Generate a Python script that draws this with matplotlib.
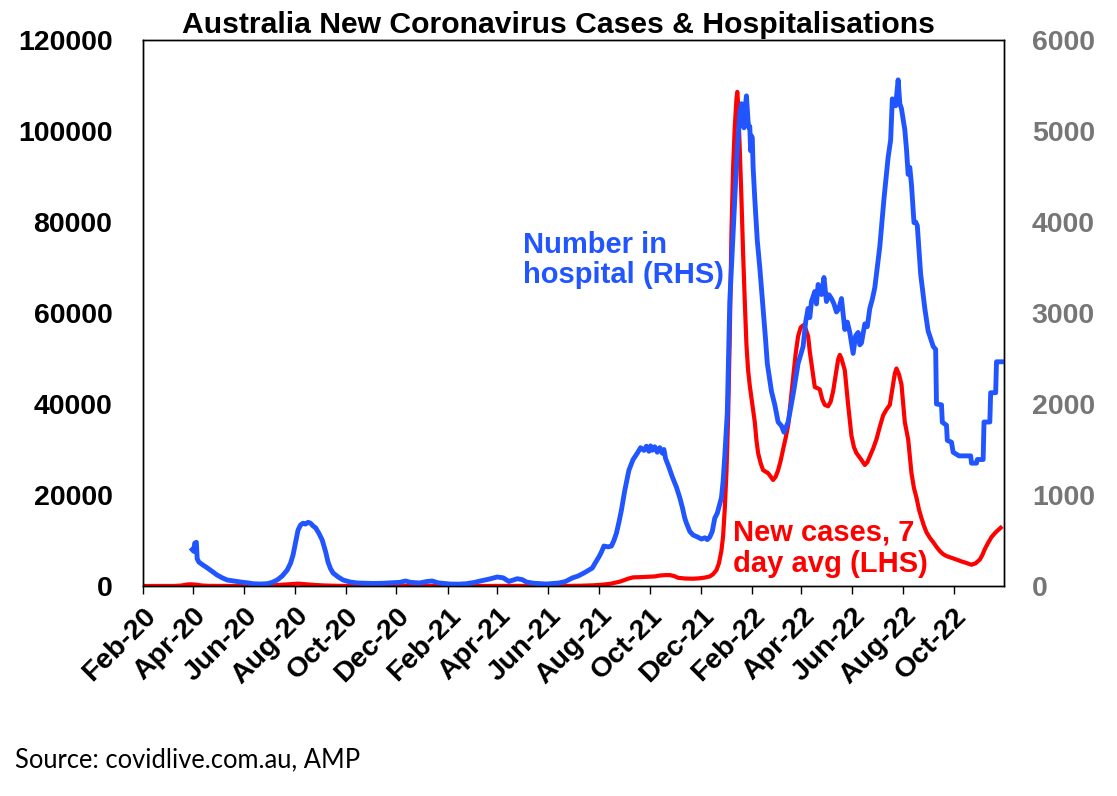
import matplotlib.pyplot as plt
import matplotlib.dates as mdates
import pandas as pd

# number in hospital (RHS)
hosp_dates = [
    "2020-03-31", "2020-04-02", "2020-04-03", "2020-04-05", "2020-04-06", "2020-04-08", "2020-04-13",
    "2020-04-18", "2020-04-24", "2020-04-30", "2020-05-06", "2020-05-12", "2020-05-20", "2020-05-28",
    "2020-06-05", "2020-06-12", "2020-06-20", "2020-06-29", "2020-07-05", "2020-07-11", "2020-07-17",
    "2020-07-23", "2020-07-27", "2020-07-30", "2020-08-02", "2020-08-05", "2020-08-08", "2020-08-11",
    "2020-08-14", "2020-08-17", "2020-08-20", "2020-08-23", "2020-08-26", "2020-08-30", "2020-09-03",
    "2020-09-07", "2020-09-10", "2020-09-13", "2020-09-16", "2020-09-22", "2020-09-28", "2020-10-06",
    "2020-10-15", "2020-10-25", "2020-11-03", "2020-11-15", "2020-11-25", "2020-12-05", "2020-12-12",
    "2020-12-18", "2020-12-29",
    "2021-01-07", "2021-01-13", "2021-01-20", "2021-02-03", "2021-02-13", "2021-02-23", "2021-03-05",
    "2021-03-13", "2021-03-22", "2021-04-01", "2021-04-08", "2021-04-15", "2021-04-20", "2021-04-25",
    "2021-05-01", "2021-05-06", "2021-05-15", "2021-05-30", "2021-06-14", "2021-06-22", "2021-06-30",
    "2021-07-07", "2021-07-14", "2021-07-20", "2021-07-24", "2021-07-28", "2021-08-01", "2021-08-04",
    "2021-08-07", "2021-08-12", "2021-08-16", "2021-08-19", "2021-08-22", "2021-08-25", "2021-08-28",
    "2021-09-01", "2021-09-06", "2021-09-11", "2021-09-16", "2021-09-20", "2021-09-24", "2021-09-27",
    "2021-09-30", "2021-10-02", "2021-10-04", "2021-10-07", "2021-10-10", "2021-10-13", "2021-10-16",
    "2021-10-18", "2021-10-20", "2021-10-24", "2021-10-28", "2021-11-02", "2021-11-06", "2021-11-09",
    "2021-11-12", "2021-11-14", "2021-11-18", "2021-11-22", "2021-11-27", "2021-12-02", "2021-12-06",
    "2021-12-09", "2021-12-12", "2021-12-15", "2021-12-18", "2021-12-21", "2021-12-24", "2021-12-26",
    "2021-12-28", "2021-12-30",
    "2022-01-02", "2022-01-05", "2022-01-08", "2022-01-11", "2022-01-14", "2022-01-17", "2022-01-19",
    "2022-01-21", "2022-01-22", "2022-01-24", "2022-01-25", "2022-01-27", "2022-01-28", "2022-01-29",
    "2022-01-30", "2022-01-31", "2022-02-01", "2022-02-02", "2022-02-04", "2022-02-07", "2022-02-10",
    "2022-02-14", "2022-02-17", "2022-02-19", "2022-02-24", "2022-02-28", "2022-03-04", "2022-03-08",
    "2022-03-11", "2022-03-16", "2022-03-22", "2022-03-28", "2022-04-03", "2022-04-06", "2022-04-09",
    "2022-04-11", "2022-04-13", "2022-04-17", "2022-04-19", "2022-04-21", "2022-04-25", "2022-04-28",
    "2022-05-01", "2022-05-04", "2022-05-07", "2022-05-10", "2022-05-13", "2022-05-16", "2022-05-19",
    "2022-05-23", "2022-05-26", "2022-05-29", "2022-06-02", "2022-06-05", "2022-06-08", "2022-06-10",
    "2022-06-12", "2022-06-16", "2022-06-19", "2022-06-22", "2022-06-25", "2022-06-28", "2022-07-04",
    "2022-07-09", "2022-07-14", "2022-07-17", "2022-07-19", "2022-07-21", "2022-07-23", "2022-07-26",
    "2022-07-28", "2022-07-30", "2022-08-03", "2022-08-05", "2022-08-07", "2022-08-09", "2022-08-11",
    "2022-08-14", "2022-08-16", "2022-08-18", "2022-08-22", "2022-08-27", "2022-08-31", "2022-09-02",
    "2022-09-06", "2022-09-09", "2022-09-10", "2022-09-16", "2022-09-17", "2022-09-22", "2022-09-23",
    "2022-09-28", "2022-09-30", "2022-10-07", "2022-10-14", "2022-10-21", "2022-10-22", "2022-10-28",
    "2022-10-29", "2022-11-05", "2022-11-06", "2022-11-13", "2022-11-14", "2022-11-20", "2022-11-21",
    "2022-11-28",
]
hosp_values = [
    400, 380, 470, 480, 300, 263, 230,
    200, 160, 120, 90, 66, 55, 44,
    35, 25, 22, 25, 40, 66, 110,
    175, 250, 340, 480, 614, 670, 690,
    680, 700, 690, 660, 640, 580, 505,
    380, 263, 190, 143, 100, 66, 45,
    33, 30, 28, 30, 35, 40, 55,
    40, 33,
    50, 55, 35, 22, 20, 25, 40,
    58, 75, 99, 90, 50, 65, 80,
    70, 44, 30, 22, 33, 50, 88,
    110, 143, 175, 197, 260, 320, 373,
    439, 430, 439, 500, 581, 700, 834,
    1050, 1273, 1390, 1459, 1520, 1490, 1536,
    1480, 1540, 1492, 1530, 1470, 1520, 1460,
    1500, 1400, 1305, 1200, 1086, 971, 867,
    746, 691, 600, 560, 540, 516, 530,
    510, 537, 600, 746, 800, 900, 971,
    1150, 1426,
    1900, 3126, 3700, 4256, 4800, 5200, 5300,
    5200, 5035, 5300, 5386, 5100, 5035, 5050,
    4783, 4947, 4925, 4600, 4256, 3796, 3500,
    3050, 2700, 2446, 2139, 1991, 1802, 1760,
    1690, 1802, 2106, 2446, 2633, 2900, 3050,
    2950, 3126, 3236, 3100, 3313, 3203, 3390,
    3126, 3200, 3159, 3100, 3011, 3050, 3159,
    2819, 2900, 2786, 2556, 2750, 2786, 2650,
    2671, 2880, 2850, 3050, 3150, 3280, 3730,
    4256, 4712, 4900, 5353, 5300, 5277, 5562,
    5300, 5244, 5013, 4800, 4523, 4600, 4410,
    3993, 4000, 3960, 3427, 3050, 2800, 2747,
    2633, 2600, 2000, 1991, 1800, 1766, 1600,
    1580, 1470, 1430, 1430, 1430, 1350, 1350,
    1390, 1390, 1802, 1802, 2124, 2124, 2464,
    2464,
]

# new cases, 7 day average (LHS)
case_dates = [
    "2020-02-01", "2020-02-29", "2020-03-10", "2020-03-18", "2020-03-25", "2020-03-30", "2020-04-05",
    "2020-04-12", "2020-04-20", "2020-05-01", "2020-06-01", "2020-06-25", "2020-07-05", "2020-07-15",
    "2020-07-25", "2020-08-05", "2020-08-12", "2020-08-25", "2020-09-05", "2020-09-20", "2020-10-10",
    "2020-11-15", "2020-12-25",
    "2021-01-05", "2021-01-20", "2021-03-01", "2021-06-01", "2021-06-25", "2021-07-10", "2021-07-25",
    "2021-08-05", "2021-08-15", "2021-08-26", "2021-09-05", "2021-09-11", "2021-09-20", "2021-10-01",
    "2021-10-07", "2021-10-13", "2021-10-20", "2021-10-25", "2021-10-30", "2021-11-04", "2021-11-12",
    "2021-11-22", "2021-11-30", "2021-12-06", "2021-12-12", "2021-12-16", "2021-12-20", "2021-12-23",
    "2021-12-26", "2021-12-28", "2021-12-30",
    "2022-01-01", "2022-01-03", "2022-01-05", "2022-01-07", "2022-01-09", "2022-01-11", "2022-01-13",
    "2022-01-14", "2022-01-15", "2022-01-17", "2022-01-19", "2022-01-21", "2022-01-23", "2022-01-25",
    "2022-01-27", "2022-01-29", "2022-01-31", "2022-02-04", "2022-02-06", "2022-02-08", "2022-02-11",
    "2022-02-14", "2022-02-20", "2022-02-26", "2022-03-01", "2022-03-04", "2022-03-07", "2022-03-10",
    "2022-03-13", "2022-03-16", "2022-03-19", "2022-03-22", "2022-03-25", "2022-03-28", "2022-03-31",
    "2022-04-03", "2022-04-06", "2022-04-09", "2022-04-11", "2022-04-13", "2022-04-17", "2022-04-20",
    "2022-04-23", "2022-04-26", "2022-04-29", "2022-05-03", "2022-05-06", "2022-05-09", "2022-05-13",
    "2022-05-15", "2022-05-17", "2022-05-19", "2022-05-23", "2022-05-27", "2022-05-31", "2022-06-03",
    "2022-06-06", "2022-06-12", "2022-06-16", "2022-06-19", "2022-06-22", "2022-06-26", "2022-06-30",
    "2022-07-04", "2022-07-08", "2022-07-12", "2022-07-16", "2022-07-20", "2022-07-22", "2022-07-24",
    "2022-07-27", "2022-07-30", "2022-08-03", "2022-08-07", "2022-08-11", "2022-08-14", "2022-08-17",
    "2022-08-20", "2022-08-23", "2022-08-26", "2022-08-29", "2022-09-02", "2022-09-06", "2022-09-10",
    "2022-09-14", "2022-09-18", "2022-09-22", "2022-09-28", "2022-10-04", "2022-10-10", "2022-10-16",
    "2022-10-22", "2022-10-27", "2022-11-01", "2022-11-04", "2022-11-07", "2022-11-11", "2022-11-15",
    "2022-11-20", "2022-11-26",
]
case_values = [
    0, 2, 10, 100, 330, 380, 280,
    100, 30, 15, 10, 20, 120, 250,
    380, 520, 420, 230, 120, 40, 15,
    10, 20,
    30, 10, 10, 10, 20, 60, 150,
    280, 500, 950, 1600, 1900, 1950, 2040,
    2100, 2300, 2400, 2400, 2200, 1800, 1650,
    1600, 1700, 1850, 2100, 2600, 3500, 5000,
    7800, 11000, 17000,
    25000, 37000, 55000, 77700, 92000, 101000, 107000,
    108600, 106000, 96000, 85100, 73000, 62500, 53000,
    47400, 44000, 41300, 36000, 32000, 29200, 27000,
    25450, 24800, 23300, 24000, 25450, 27500, 30060,
    32500, 35300, 40500, 45850, 51000, 54900, 56800,
    57300, 56500, 54900, 51500, 48900, 43700, 43500,
    43200, 41000, 39800, 39500, 40500, 42800, 47400,
    49800, 50800, 50000, 47400, 39800, 33000, 30500,
    29200, 27700, 26600, 27200, 28500, 30200, 32250,
    35000, 37500, 38800, 39800, 44300, 46700, 47800,
    46500, 44300, 36000, 32250, 24800, 21500, 19400,
    16800, 14900, 13200, 11800, 10600, 9650, 8600,
    7680, 7000, 6580, 6200, 5810, 5400, 5050,
    4670, 5000, 5810, 6800, 8100, 9500, 10750,
    11800, 12800,
]

blue = "#2155FF"
red = "#FF0000"

fig = plt.figure(figsize=(11.17, 7.96), dpi=100)
ax = fig.add_axes([143 / 1117, 1 - 586 / 796, 861 / 1117, 546 / 796])
ax2 = ax.twinx()

ax.plot(pd.to_datetime(case_dates), case_values, color=red, lw=3, solid_joinstyle="round")
ax2.plot(pd.to_datetime(hosp_dates), hosp_values, color=blue, lw=3.5, solid_joinstyle="round")

ax.set_xlim(pd.Timestamp("2020-02-01"), pd.Timestamp("2022-11-30"))
ax.set_ylim(0, 120000)
ax2.set_ylim(0, 6000)
ax.set_yticks(range(0, 120001, 20000))
ax2.set_yticks(range(0, 6001, 1000))

ax.xaxis.set_major_locator(mdates.MonthLocator(bymonth=[2, 4, 6, 8, 10, 12]))
ax.xaxis.set_major_formatter(mdates.DateFormatter("%b-%y"))

ax.tick_params(axis="x", direction="out", length=6, width=1, pad=6, labelsize=20.5)
ax.tick_params(axis="y", length=0, pad=22, labelsize=20.5)
ax2.tick_params(axis="y", length=0, pad=20, labelsize=20.5, labelcolor="#767676")
for lab in ax.get_xticklabels():
    lab.set_rotation(45)
    lab.set_ha("right")
    lab.set_rotation_mode("anchor")
for lab in ax.get_xticklabels() + ax.get_yticklabels() + ax2.get_yticklabels():
    lab.set_fontweight("bold")
    lab.set_family("Liberation Sans")

for a in (ax, ax2):
    for s in a.spines.values():
        s.set_linewidth(1)
        s.set_color("black")

ax.text(0.441, 0.555, "Number in\nhospital (RHS)", transform=ax.transAxes, color=blue,
        fontsize=21, fontweight="bold", family="Liberation Sans", va="baseline", linespacing=1.1)
ax.text(0.685, 0.026, "New cases, 7\nday avg (LHS)", transform=ax.transAxes, color=red,
        fontsize=21, fontweight="bold", family="Liberation Sans", va="baseline", linespacing=1.15)

fig.text(0.4996, 1 - 33 / 796, "Australia New Coronavirus Cases & Hospitalisations", ha="center",
         va="baseline", fontsize=21.7, fontweight="bold", family="Liberation Sans")
fig.text(15 / 1117, 1 - 767 / 796, "Source: covidlive.com.au, AMP", ha="left", va="baseline",
         fontsize=18.4, family="Lato")

fig.savefig("out.png", dpi=100)
